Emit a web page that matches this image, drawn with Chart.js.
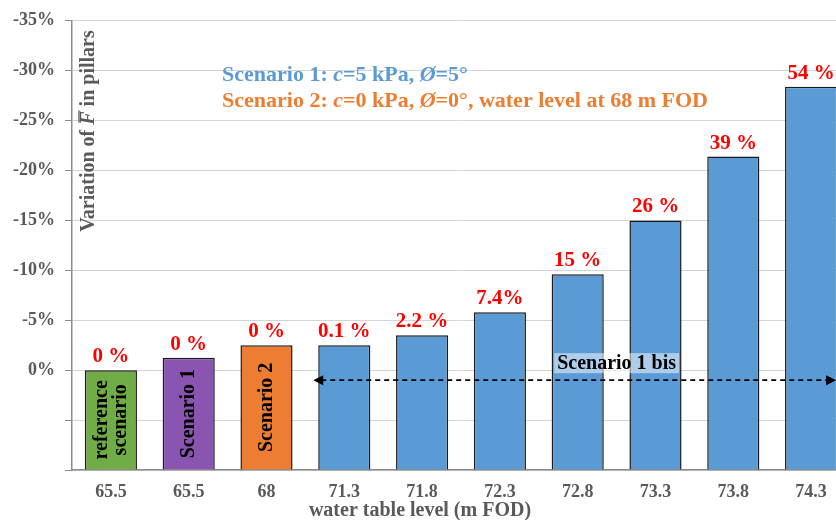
<!DOCTYPE html>
<html>
<head>
<meta charset="utf-8">
<script src="https://cdn.jsdelivr.net/npm/chart.js@4/dist/chart.umd.min.js"></script>
<style>
  html, body { margin: 0; padding: 0; background: #fff; overflow: hidden; }
  #wrap { width: 850px; height: 520px; position: relative; }
</style>
</head>
<body>
<div id="wrap"><canvas id="pillarChart"></canvas></div>
<script>
// water table levels (x categories)
var waterLevels = ["65.5", "65.5", "68", "71.3", "71.8", "72.3", "72.8", "73.3", "73.8", "74.3"];
// variation of F in pillars (%), negative = upwards on the reversed axis
var variation = [0, -1.25, -2.5, -2.5, -3.5, -5.8, -9.6, -15, -21.4, -28.4];
// red labels above bars
var changeLabels = ["0 %", "0 %", "0 %", "0.1 %", "2.2 %", "7.4%", "15 %", "26 %", "39 %", "54 %"];
// names written inside the first bars
var barNames = [["reference", "scenario"], ["Scenario 1"], ["Scenario 2"], null, null, null, null, null, null, null];
var barColors = ["#70AD47", "#8955B1", "#ED7D31", "#5B9BD5", "#5B9BD5", "#5B9BD5", "#5B9BD5", "#5B9BD5", "#5B9BD5", "#5B9BD5"];
// y axis range
var yMin = -35;
var yMax = 10;
var yStep = 5;

var SERIF = '"Liberation Serif", "Times New Roman", serif';
var GREY = "#595959";

function drawSegments(ctx, segs, x, y, size, align) {
  var total = 0;
  segs.forEach(function (s) {
    ctx.font = (s[1] ? "italic bold " : "bold ") + size + "px " + SERIF;
    total += ctx.measureText(s[0]).width;
  });
  var cx = align === "center" ? x - total / 2 : x;
  ctx.textAlign = "left";
  segs.forEach(function (s) {
    ctx.font = (s[1] ? "italic bold " : "bold ") + size + "px " + SERIF;
    ctx.fillText(s[0], cx, y);
    var w = ctx.measureText(s[0]).width;
    if (s[2]) {
      // overline
      ctx.save();
      ctx.strokeStyle = ctx.fillStyle;
      ctx.lineWidth = 1.3;
      ctx.beginPath();
      ctx.moveTo(cx + 2, y - size * 0.5);
      ctx.lineTo(cx + w + 1, y - size * 0.5);
      ctx.stroke();
      ctx.restore();
    }
    cx += w;
  });
}

var annotations = {
  id: "annotations",
  afterDatasetsDraw: function (chart) {
    var ctx = chart.ctx;
    var xs = chart.scales.x;
    var ys = chart.scales.y;
    var bars = chart.getDatasetMeta(0).data;
    ctx.save();

    // percentage labels above bars
    ctx.font = "bold 21px " + SERIF;
    ctx.fillStyle = "#FF0000";
    ctx.textAlign = "center";
    ctx.textBaseline = "alphabetic";
    bars.forEach(function (b, i) {
      ctx.fillText(changeLabels[i], b.x, b.y - 8);
    });

    // names inside bars
    ctx.fillStyle = "#000";
    ctx.font = "bold 20px " + SERIF;
    ctx.textBaseline = "middle";
    bars.forEach(function (b, i) {
      var lines = barNames[i];
      if (!lines) return;
      ctx.save();
      ctx.translate(b.x, (b.y + b.base) / 2);
      ctx.rotate(-Math.PI / 2);
      lines.forEach(function (l, j) {
        ctx.fillText(l, 0, (j - (lines.length - 1) / 2) * 19);
      });
      ctx.restore();
    });

    // scenario 1 bis arrow
    var ay = ys.getPixelForValue(1);
    var x0 = bars[3].x - bars[3].width / 2 - 5;
    var x1 = bars[9].x + 25;
    ctx.strokeStyle = "#000";
    ctx.lineWidth = 1.6;
    ctx.setLineDash([5, 4]);
    ctx.beginPath();
    ctx.moveTo(x0 + 8, ay);
    ctx.lineTo(x1 - 8, ay);
    ctx.stroke();
    ctx.setLineDash([]);
    ctx.fillStyle = "#000";
    ctx.beginPath();
    ctx.moveTo(x0, ay); ctx.lineTo(x0 + 10, ay - 5); ctx.lineTo(x0 + 10, ay + 5); ctx.closePath(); ctx.fill();
    ctx.beginPath();
    ctx.moveTo(x1, ay); ctx.lineTo(x1 - 10, ay - 5); ctx.lineTo(x1 - 10, ay + 5); ctx.closePath(); ctx.fill();

    // scenario 1 bis label
    var lx = xs.getPixelForValue(6.5);
    var ly = ys.getPixelForValue(-0.7);
    ctx.font = "bold 20px " + SERIF;
    var tw = ctx.measureText("Scenario 1 bis").width;
    ctx.fillStyle = "rgba(255,255,255,0.5)";
    ctx.fillRect(lx - tw / 2 - 3, ly - 10, tw + 6, 20);
    ctx.fillStyle = "#000";
    ctx.textAlign = "center";
    ctx.textBaseline = "middle";
    ctx.fillText("Scenario 1 bis", lx, ly + 1);

    // scenario descriptions
    ctx.textBaseline = "middle";
    ctx.fillStyle = "#5B9BD5";
    drawSegments(ctx, [["Scenario 1: "], ["c", true], ["=5 kPa, "], ["\u00D8", true], ["=5\u00B0"]], 222, 75, 22, "left");
    ctx.fillStyle = "#ED7D31";
    drawSegments(ctx, [["Scenario 2: "], ["c", true], ["=0 kPa, "], ["\u00D8", true], ["=0\u00B0, water level at 68 m FOD"]], 222, 101, 22, "left");

    // y axis title (inside plot)
    ctx.fillStyle = GREY;
    ctx.save();
    ctx.translate(89, 131);
    ctx.rotate(-Math.PI / 2);
    ctx.textBaseline = "middle";
    drawSegments(ctx, [["Variation of "], ["F", true, true], [" in pillars"]], 0, 0, 20, "center");
    ctx.restore();

    // x axis title
    ctx.font = "bold 20px " + SERIF;
    ctx.textAlign = "center";
    ctx.textBaseline = "middle";
    ctx.fillText("water table level (m FOD)", 420, 511);

    ctx.restore();
  }
};

Chart.defaults.font.family = SERIF;

var ctx = document.getElementById("pillarChart");
var pillarChart = new Chart(ctx, {
  type: "bar",
  data: {
    labels: waterLevels,
    datasets: [
      {
        data: variation,
        base: yMax,
        backgroundColor: barColors,
        borderColor: "#1a1a1a",
        borderWidth: 1.5,
        barPercentage: 0.67,
        categoryPercentage: 1,
      },
    ],
  },
  options: {
    responsive: true,
    maintainAspectRatio: false,
    animation: false,
    layout: { padding: { top: 20, right: 0, left: 0, bottom: 0 } },
    scales: {
      x: {
        grid: { display: false },
        border: { color: "#8c8c8c", width: 1.5 },
        ticks: { color: GREY, font: { size: 18, weight: "bold" }, padding: 4 },
        afterFit: function (scale) { scale.height = 50; },
      },
      y: {
        reverse: true,
        min: yMin,
        max: yMax,
        grid: {
          color: "#d4d4d4",
          lineWidth: 1,
          borderDash: [1, 3],
          tickColor: "#8c8c8c",
          tickBorderDash: [],
          tickLength: 7,
        },
        border: { color: "#8c8c8c", width: 1.5 },
        ticks: {
          stepSize: yStep,
          color: GREY,
          padding: 10,
          font: { size: 18, weight: "bold" },
          callback: function (v) { return v <= 0 ? v + "%" : ""; },
        },
        afterFit: function (scale) { scale.width = 72; },
      },
    },
    plugins: {
      legend: { display: false },
      tooltip: { enabled: false },
    },
  },
  plugins: [annotations],
});
</script>
</body>
</html>
